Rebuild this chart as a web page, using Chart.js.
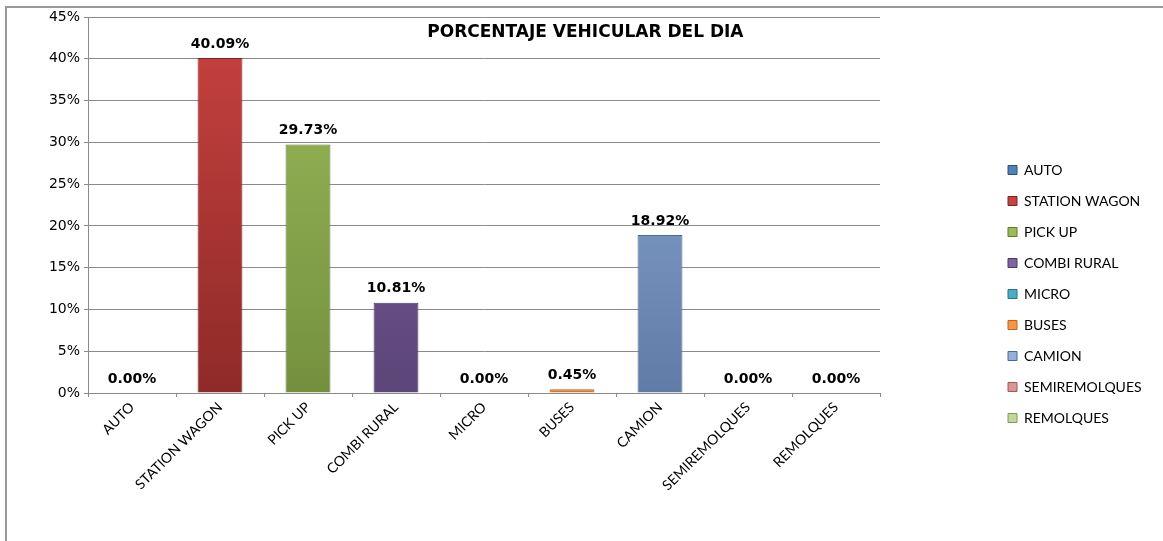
<!DOCTYPE html>
<html>
<head>
<meta charset="utf-8">
<script src="https://cdn.jsdelivr.net/npm/chart.js@4.4.0/dist/chart.umd.min.js"></script>
<style>
  html, body { margin: 0; padding: 0; background: #fff; }
  #marco { position: absolute; left: 5px; top: 6px; width: 1300px; height: 700px;
           border-left: 2px solid #9a9a9a; border-top: 2px solid #9a9a9a; }
  #wrap { position: absolute; left: 0; top: 0; width: 1163px; height: 541px; }
</style>
</head>
<body>
<div id="marco"></div>
<div id="wrap"><canvas id="grafico"></canvas></div>
<script>
// === DATOS ===
const categorias = ["AUTO", "STATION WAGON", "PICK UP", "COMBI RURAL", "MICRO", "BUSES", "CAMION", "SEMIREMOLQUES", "REMOLQUES"];
const porcentajes = [0.00, 40.09, 29.73, 10.81, 0.00, 0.45, 18.92, 0.00, 0.00];
const ticksY = [0, 5, 10, 15, 20, 25, 30, 35, 40, 45];
const titulo = "PORCENTAJE VEHICULAR DEL DIA";

// === COLORES (estilo Excel) ===
const colorArriba = ["#4F81BD", "#C8423F", "#9BBB59", "#8064A2", "#4BACC6", "#F79646", "#93B1DA", "#D99694", "#C3D69B"];
const colorAbajo  = ["#3A6495", "#8E2A28", "#74903F", "#5C4579", "#2F8AA3", "#D9772A", "#5F7BA6", "#B86A68", "#9AB26D"];
const colorBorde  = ["#2E5077", "#7A2422", "#60782F", "#4B3866", "#26738A", "#C06418", "#4E6890", "#A05856", "#82985A"];

function degradado(ctx) {
  const area = ctx.chart.chartArea;
  const i = ctx.dataIndex;
  if (!area) return colorArriba[i];
  const g = ctx.chart.ctx.createLinearGradient(0, area.top, 0, area.bottom);
  g.addColorStop(0, colorArriba[i]);
  g.addColorStop(1, colorAbajo[i]);
  return g;
}

// === PLUGIN: etiquetas de valor ===
const etiquetasValor = {
  id: "etiquetasValor",
  afterDatasetsDraw(chart) {
    const ctx = chart.ctx;
    const meta = chart.getDatasetMeta(0);
    ctx.save();
    ctx.font = "bold 14px 'DejaVu Sans'";
    ctx.fillStyle = "#000";
    ctx.textAlign = "center";
    ctx.textBaseline = "bottom";
    meta.data.forEach((bar, i) => {
      ctx.fillText(porcentajes[i].toFixed(2) + "%", bar.x, bar.y - 7);
    });
    ctx.restore();
  }
};

// === PLUGIN: título dentro del área ===
const tituloInterno = {
  id: "tituloInterno",
  afterDraw(chart) {
    const a = chart.chartArea;
    const ctx = chart.ctx;
    ctx.save();
    ctx.font = "bold 17px 'DejaVu Sans'";
    ctx.fillStyle = "#000";
    ctx.textAlign = "center";
    ctx.textBaseline = "middle";
    ctx.fillText(titulo, a.left + a.width * 0.628, a.top + 16);
    ctx.restore();
  }
};

// === PLUGIN: leyenda separada a la derecha ===
const leyendaDerecha = {
  id: "leyendaDerecha",
  beforeLayout(chart) {
    const lg = chart.legend;
    if (!lg || lg._parchada) return;
    const fitOriginal = lg.fit.bind(lg);
    lg.fit = function () {
      fitOriginal();
      this.width = 283;
    };
    lg._parchada = true;
  },
  afterLayout(chart) {
    const lg = chart.legend;
    lg.left += 111;
    lg.right += 111;
    lg.top = 146;
  }
};

new Chart(document.getElementById("grafico"), {
  type: "bar",
  data: {
    labels: categorias,
    datasets: [{
      label: "Porcentaje",
      data: porcentajes,
      backgroundColor: degradado,
      borderColor: colorBorde,
      borderWidth: 1,
      barPercentage: 0.51,
      categoryPercentage: 1.0
    }]
  },
  options: {
    responsive: true,
    maintainAspectRatio: false,
    animation: false,
    layout: { padding: { top: 17, left: 0, right: 0, bottom: 0 } },
    scales: {
      x: {
        grid: { display: true, drawOnChartArea: false, drawTicks: true, tickLength: 4, color: "#8a8a8a" },
        border: { color: "#8a8a8a", width: 1 },
        ticks: {
          color: "#000",
          font: { family: "Lato", size: 14 },
          minRotation: 45,
          maxRotation: 45,
          autoSkip: false,
          padding: 2
        },
        afterFit(s) { s.height = 148; }
      },
      y: {
        min: 0,
        max: 45,
        afterBuildTicks(s) { s.ticks = ticksY.map(v => ({ value: v })); },
        grid: { color: "#8a8a8a", lineWidth: 1, tickLength: 4 },
        border: { color: "#8a8a8a", width: 1 },
        ticks: {
          color: "#000",
          font: { family: "DejaVu Sans", size: 14 },
          padding: 4,
          callback: v => v + "%"
        },
        afterFit(s) { s.width = 88; }
      }
    },
    plugins: {
      title: { display: false },
      tooltip: { enabled: false },
      legend: {
        display: true,
        position: "right",
        align: "start",
        labels: {
          boxWidth: 9,
          boxHeight: 9,
          padding: 17,
          color: "#000",
          font: { family: "Lato", size: 14 },
          generateLabels(chart) {
            return chart.data.labels.map((l, i) => ({
              text: l,
              fillStyle: colorArriba[i],
              strokeStyle: colorBorde[i],
              lineWidth: 1,
              hidden: false,
              index: i
            }));
          }
        }
      }
    }
  },
  plugins: [etiquetasValor, tituloInterno, leyendaDerecha]
});
</script>
</body>
</html>
